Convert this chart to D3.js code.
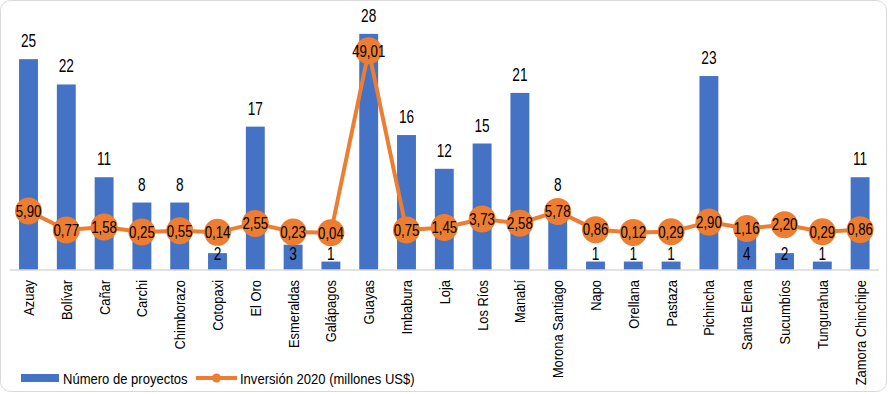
<!DOCTYPE html>
<html>
<head>
<meta charset="utf-8">
<script src="https://cdn.jsdelivr.net/npm/d3@7"></script>
<style>
  body { margin: 0; background: #fff; }
  svg text { font-family: "Liberation Sans", Arial, sans-serif; fill: #000; }
</style>
</head>
<body>
<script>
// provincias y valores
var provincias = ["Azuay", "Bolívar", "Cañar", "Carchi", "Chimborazo", "Cotopaxi", "El Oro", "Esmeraldas",
  "Galápagos", "Guayas", "Imbabura", "Loja", "Los Ríos", "Manabí", "Morona Santiago", "Napo", "Orellana",
  "Pastaza", "Pichincha", "Santa Elena", "Sucumbíos", "Tungurahua", "Zamora Chinchipe"];
var proyectos = [25, 22, 11, 8, 8, 2, 17, 3, 1, 28, 16, 12, 15, 21, 8, 1, 1, 1, 23, 4, 2, 1, 11];
var inversion = [5.90, 0.77, 1.58, 0.25, 0.55, 0.14, 2.55, 0.23, 0.04, 49.01, 0.75, 1.45, 3.73, 2.58, 5.78,
  0.86, 0.12, 0.29, 2.90, 1.16, 2.20, 0.29, 0.86];
var serieNombres = ["Número de proyectos", "Inversión 2020 (millones US$)"];

var width = 888, height = 394;
var azul = "#4472C4", naranja = "#ED7D31";

var svg = d3.select("body").append("svg")
  .attr("width", width)
  .attr("height", height)

// texto comprimido horizontalmente (la fuente original es mas estrecha)
function texto(parent, tx, ty, rot, txt, size, sx, anchor) {
  var g = parent.append("g")
    .attr("transform", "translate(" + tx + "," + ty + ") rotate(" + rot + ") scale(" + sx + ",1)")
  g.append("text")
    .attr("text-anchor", anchor || "middle")
    .style("font-size", size + "px")
    .text(txt)
  return g;
}

// borde redondeado del area del grafico
svg.append("rect")
  .attr("x", 0.5).attr("y", 0.5)
  .attr("width", width - 2).attr("height", height - 3)
  .attr("rx", 10)
  .attr("fill", "none")
  .attr("stroke", "#d9d9d9")

var x = d3.scaleBand()
  .domain(provincias)
  .range([9.6, 879])
  .paddingInner(0.5)
  .paddingOuter(0.25)

var y = d3.scaleLinear().domain([0, 30]).range([270, 17])
var y2 = d3.scaleLinear().domain([-10, 60]).range([270, 10])

function cx(i) { return x(provincias[i]) + x.bandwidth() / 2; }

// barras
svg.selectAll("rect.bar")
  .data(proyectos)
  .enter()
  .append("rect")
  .attr("class", "bar")
  .attr("x", function (d, i) { return x(provincias[i]); })
  .attr("y", function (d) { return y(d); })
  .attr("width", x.bandwidth())
  .attr("height", function (d) { return y(0) - y(d); })
  .attr("fill", azul)

// eje x (linea)
svg.append("line")
  .attr("x1", 9.6).attr("x2", 879)
  .attr("y1", y(0)).attr("y2", y(0))
  .attr("stroke", "#d9d9d9")
  .attr("stroke-width", 1.5)

// etiquetas de las barras
proyectos.forEach(function (d, i) {
  texto(svg, cx(i), d <= 4 ? 259.5 : y(d) - 12, 0, d, 18.5, 0.74);
});

// linea de inversion
var linea = d3.line()
  .x(function (d, i) { return cx(i); })
  .y(function (d) { return y2(d); })

svg.append("path")
  .datum(inversion)
  .attr("d", linea)
  .attr("fill", "none")
  .attr("stroke", naranja)
  .attr("stroke-width", 4)
  .attr("stroke-linejoin", "round")

svg.selectAll("circle.marca")
  .data(inversion)
  .enter()
  .append("circle")
  .attr("class", "marca")
  .attr("cx", function (d, i) { return cx(i); })
  .attr("cy", function (d) { return y2(d); })
  .attr("r", 13.5)
  .attr("fill", naranja)

inversion.forEach(function (d, i) {
  texto(svg, cx(i), y2(d) + 5.8, 0, d.toFixed(2).replace(".", ","), 16.3, 0.81);
});

// nombres de provincias, verticales
provincias.forEach(function (d, i) {
  texto(svg, cx(i) + 5.5, 280, -90, d, 15, 0.86, "end");
});

// leyenda
var ley = svg.append("g").attr("transform", "translate(0,378)")
ley.append("rect")
  .attr("x", 21).attr("y", -4)
  .attr("width", 38).attr("height", 8)
  .attr("fill", azul)
texto(ley, 63, 5.5, 0, serieNombres[0], 14.5, 0.9, "start");
ley.append("line")
  .attr("x1", 196).attr("x2", 237)
  .attr("y1", 0).attr("y2", 0)
  .attr("stroke", naranja)
  .attr("stroke-width", 4)
ley.append("circle")
  .attr("cx", 216.5).attr("cy", 0)
  .attr("r", 4.5)
  .attr("fill", naranja)
texto(ley, 240, 5.5, 0, serieNombres[1], 14.5, 0.9, "start");
</script>
</body>
</html>
